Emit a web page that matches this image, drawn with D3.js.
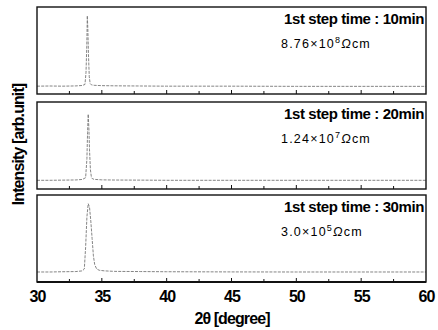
<!DOCTYPE html>
<html><head><meta charset="utf-8">
<script src="https://cdn.jsdelivr.net/npm/d3@7"></script>
<style>
html,body{margin:0;padding:0;background:#fff;}
svg{display:block;}
text{font-family:"Liberation Sans",Arial,sans-serif;}
</style></head>
<body>
<script>
// ---- data ----
const xTicks = [30, 35, 40, 45, 50, 55, 60];
const stepLabels = ["1st step time : 10min", "1st step time : 20min", "1st step time : 30min"];
const resMantissa = ["8.76", "1.24", "3.0"];
const resExponent = ["8", "7", "5"];

const twoTheta1 = [30, 31, 32, 33, 33.5, 33.7, 33.78, 33.84, 33.88, 33.92, 33.97, 34.03, 34.1, 34.2, 34.4, 35, 36, 38, 40, 45, 50, 55, 60];
const intensity1 = [9, 9.2, 9, 9.3, 9.8, 11, 25, 55, 90, 75, 45, 20, 12, 10.5, 10, 9.6, 9.4, 9.2, 9, 9, 8.8, 8.8, 8.8];

const twoTheta2 = [30, 31, 32, 33, 33.5, 33.75, 33.85, 33.9, 33.95, 34.0, 34.05, 34.12, 34.2, 34.3, 34.5, 35, 36, 38, 40, 45, 50, 55, 60];
const intensity2 = [10, 10, 10.2, 10.4, 11, 13, 35, 65, 86, 70, 45, 22, 13, 11.5, 11, 10.5, 10.3, 10.2, 10, 10, 10, 10, 10];

const twoTheta3 = [30, 31, 32, 33, 33.5, 33.65, 33.75, 33.85, 33.95, 34.05, 34.15, 34.25, 34.35, 34.45, 34.6, 34.8, 35.2, 36, 38, 40, 45, 50, 55, 60];
const intensity3 = [11.5, 11.5, 11.8, 12, 12.8, 15, 40, 75, 90, 86, 70, 50, 30, 20, 15, 13.5, 12.8, 12.2, 12, 11.8, 11.6, 11.5, 11.5, 11.5];

const panels = [
  {x: twoTheta1, y: intensity1},
  {x: twoTheta2, y: intensity2},
  {x: twoTheta3, y: intensity3}
];

// ---- layout ----
const W = 438, H = 330;
const left = 37, right = 426;
const panelTops = [7, 102, 195];
const panelH = 87;

const svg = d3.select("body").append("svg").attr("width", W).attr("height", H);
const x = d3.scaleLinear().domain([30, 60]).range([left, right]);

panels.forEach((p, i) => {
  const top = panelTops[i];
  const y = d3.scaleLinear().domain([0, 100]).range([top + panelH, top]);
  const g = svg.append("g");
  const pts = p.x.map((v, k) => [v, p.y[k]]);
  g.append("path")
    .datum(pts)
    .attr("fill", "none")
    .attr("stroke", "#777")
    .attr("stroke-width", 0.9)
    .attr("stroke-dasharray", "3,1.2")
    .attr("d", d3.line().x(d => x(d[0])).y(d => y(d[1])));
  g.append("rect")
    .attr("x", left).attr("y", top)
    .attr("width", right - left).attr("height", panelH)
    .attr("fill", "none").attr("stroke", "#111").attr("stroke-width", 1.4);
  const tickVals = d3.range(30, 60.01, 2.5).slice(1, -1);
  g.selectAll("line.tk").data(tickVals).enter().append("line")
    .attr("x1", d => x(d)).attr("x2", d => x(d))
    .attr("y1", top + panelH).attr("y2", d => top + panelH - (d % 5 === 0 ? 4 : 3))
    .attr("stroke", "#111").attr("stroke-width", 1);
  g.append("text")
    .attr("x", 424).attr("y", top + 17)
    .attr("text-anchor", "end")
    .attr("font-size", 15).attr("font-weight", "bold")
    .attr("letter-spacing", -0.4)
    .text(stepLabels[i]);
  const t = g.append("text")
    .attr("x", 281).attr("y", top + 41)
    .attr("font-size", 12.5).attr("letter-spacing", 1.2);
  t.append("tspan").text(resMantissa[i] + "×10");
  t.append("tspan").attr("font-size", 9).attr("dy", -5).text(resExponent[i]);
  t.append("tspan").attr("dy", 5).attr("font-style", "italic").text("Ω");
  t.append("tspan").text("cm");
});

// bottom axis
const bottom = panelTops[2] + panelH;
svg.append("line").attr("x1", left).attr("x2", right).attr("y1", bottom).attr("y2", bottom)
  .attr("stroke", "#111").attr("stroke-width", 2);
const axis = d3.axisBottom(x).tickValues(xTicks).tickSize(0).tickPadding(9).tickFormat(d3.format("d"));
const ax = svg.append("g").attr("transform", `translate(0,${bottom})`).call(axis);
ax.select(".domain").remove();
ax.selectAll("text")
  .attr("font-size", 16).attr("font-weight", "bold").attr("fill", "#000")
  .attr("letter-spacing", -1)
  .attr("font-family", "Liberation Sans, Arial, sans-serif");

svg.append("text")
  .attr("x", 232).attr("y", 324)
  .attr("text-anchor", "middle").attr("font-size", 16).attr("font-weight", "bold")
  .attr("letter-spacing", -0.9)
  .text("2θ [degree]");

svg.append("text")
  .attr("transform", `translate(24,${(panelTops[0] + bottom) / 2}) rotate(-90)`)
  .attr("text-anchor", "middle").attr("font-size", 16).attr("font-weight", "bold")
  .attr("letter-spacing", -0.9)
  .text("Intensity [arb.unit]");
</script>
</body></html>
